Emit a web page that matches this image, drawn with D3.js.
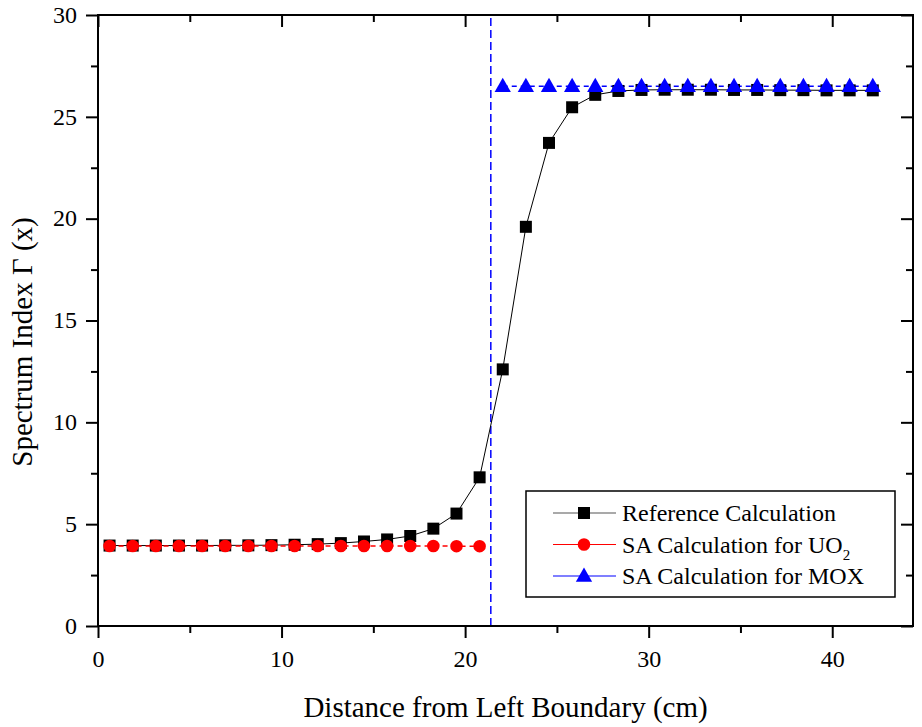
<!DOCTYPE html>
<html>
<head>
<meta charset="utf-8">
<script src="https://cdn.jsdelivr.net/npm/d3@7/dist/d3.min.js"></script>
<style>
  body { margin: 0; background: #fff; }
  svg { display: block; font-family: "Liberation Serif", "Times New Roman", serif; }
</style>
</head>
<body>
<svg id="chart" width="922" height="727"></svg>
<script>
// positions of the cell centres (cm)
const uo2X = [0.63, 1.89, 3.15, 4.41, 5.67, 6.93, 8.19, 9.45, 10.71, 11.97, 13.23, 14.49, 15.75, 17.01, 18.27, 19.53, 20.79];
const moxX = [22.05, 23.31, 24.57, 25.83, 27.09, 28.35, 29.61, 30.87, 32.13, 33.39, 34.65, 35.91, 37.17, 38.43, 39.69, 40.95, 42.21];

// spectrum index values
const refUO2 = [3.95, 3.95, 3.95, 3.95, 3.95, 3.96, 3.96, 3.97, 3.99, 4.02, 4.07, 4.15, 4.25, 4.42, 4.78, 5.52, 7.30];
const refMOX = [12.6, 19.6, 23.72, 25.47, 26.08, 26.27, 26.32, 26.33, 26.33, 26.33, 26.32, 26.32, 26.31, 26.31, 26.3, 26.3, 26.3];
const saUO2 = [3.93, 3.93, 3.93, 3.93, 3.93, 3.93, 3.93, 3.93, 3.93, 3.93, 3.93, 3.93, 3.93, 3.93, 3.93, 3.92, 3.92];
const saMOX = [26.5, 26.5, 26.5, 26.5, 26.5, 26.5, 26.5, 26.5, 26.5, 26.5, 26.5, 26.5, 26.5, 26.5, 26.5, 26.5, 26.5];

const interfaceX = 21.4;
const xTicks = [0, 10, 20, 30, 40];
const yTicks = [0, 5, 10, 15, 20, 25, 30];

const margin = { top: 15, right: 9, bottom: 101, left: 98 };
const width = 922, height = 727;
const w = width - margin.left - margin.right;
const h = height - margin.top - margin.bottom;

const svg = d3.select('#chart');
const g = svg.append('g').attr('transform', `translate(${margin.left},${margin.top})`);

const x = d3.scaleLinear().domain([0, 44.4]).range([0, w]);
const y = d3.scaleLinear().domain([0, 30]).range([h, 0]);

const refData = uo2X.map((d, i) => ({ x: d, y: refUO2[i] }))
  .concat(moxX.map((d, i) => ({ x: d, y: refMOX[i] })));
const uo2Data = uo2X.map((d, i) => ({ x: d, y: saUO2[i] }));
const moxData = moxX.map((d, i) => ({ x: d, y: saMOX[i] }));

const line = d3.line().x(d => x(d.x)).y(d => y(d.y));

// interface line
g.append('line')
  .attr('x1', x(interfaceX)).attr('x2', x(interfaceX))
  .attr('y1', y(0)).attr('y2', y(30))
  .attr('stroke', '#0000ff').attr('stroke-width', 1.5)
  .attr('stroke-dasharray', '8,4');

// lines
g.append('path').datum(refData).attr('d', line)
  .attr('fill', 'none').attr('stroke', '#000').attr('stroke-width', 1);
g.append('path').datum(uo2Data).attr('d', line)
  .attr('fill', 'none').attr('stroke', '#ff0000').attr('stroke-width', 1.5)
  .attr('stroke-dasharray', '5,4');
g.append('path').datum(moxData).attr('d', line)
  .attr('fill', 'none').attr('stroke', '#0000ff').attr('stroke-width', 1.5)
  .attr('stroke-dasharray', '5,4');

// markers
const sq = d3.symbol().type(d3.symbolSquare).size(144);
const ci = d3.symbol().type(d3.symbolCircle).size(124);
const tri = d3.symbol().type(d3.symbolTriangle).size(115);

g.selectAll('.ref').data(refData).enter().append('path')
  .attr('class', 'ref')
  .attr('transform', d => `translate(${x(d.x)},${y(d.y)})`)
  .attr('d', sq).attr('fill', '#000');
g.selectAll('.uo2').data(uo2Data).enter().append('path')
  .attr('class', 'uo2')
  .attr('transform', d => `translate(${x(d.x)},${y(d.y)})`)
  .attr('d', ci).attr('fill', '#ff0000');
g.selectAll('.mox').data(moxData).enter().append('path')
  .attr('class', 'mox')
  .attr('transform', d => `translate(${x(d.x)},${y(d.y) + 1})`)
  .attr('d', tri).attr('fill', '#0000ff');

// axes: bottom/left outward, top/right inward
const axisStyle = sel => {
  sel.select('.domain').remove();
  sel.selectAll('.tick line').attr('stroke', '#000').attr('stroke-width', 2);
  sel.selectAll('text').attr('fill', '#000').style('font-size', '24px')
    .style('font-family', '"Liberation Serif", serif');
};
const xMinor = d3.range(5, 44, 10);
const yMinor = d3.range(2.5, 30, 5);

g.append('g').attr('transform', `translate(0,${h})`)
  .call(d3.axisBottom(x).tickValues(xTicks).tickFormat(d3.format('d')).tickSize(12).tickPadding(12))
  .call(axisStyle);
g.append('g').attr('transform', `translate(0,${h})`)
  .call(d3.axisBottom(x).tickValues(xMinor).tickFormat('').tickSize(7)).call(axisStyle);

g.append('g')
  .call(d3.axisLeft(y).tickValues(yTicks).tickFormat(d3.format('d')).tickSize(12).tickPadding(9))
  .call(axisStyle)
  .selectAll('text').attr('dy', '0.3em');
g.append('g').call(d3.axisLeft(y).tickValues(yMinor).tickFormat('').tickSize(7)).call(axisStyle);

g.append('g').call(d3.axisTop(x).tickValues(xTicks).tickFormat('').tickSize(-12)).call(axisStyle);
g.append('g').call(d3.axisTop(x).tickValues(xMinor).tickFormat('').tickSize(-7)).call(axisStyle);
g.append('g').attr('transform', `translate(${w},0)`)
  .call(d3.axisRight(y).tickValues(yTicks).tickFormat('').tickSize(-12)).call(axisStyle);
g.append('g').attr('transform', `translate(${w},0)`)
  .call(d3.axisRight(y).tickValues(yMinor).tickFormat('').tickSize(-7)).call(axisStyle);

// frame
g.append('rect').attr('width', w).attr('height', h)
  .attr('fill', 'none').attr('stroke', '#000').attr('stroke-width', 2);

// axis titles
svg.append('text')
  .attr('x', margin.left + w / 2).attr('y', 717)
  .attr('text-anchor', 'middle').style('font-size', '29px')
  .text('Distance from Left Boundary (cm)');
svg.append('text')
  .attr('transform', `translate(32,342) rotate(-90)`)
  .attr('text-anchor', 'middle').style('font-size', '29px')
  .text('Spectrum Index Γ (x)');

// legend
const legend = svg.append('g').attr('transform', 'translate(526,491)');
legend.append('rect').attr('width', 369).attr('height', 106)
  .attr('fill', '#fff').attr('stroke', '#000').attr('stroke-width', 1.5);
const items = [
  { label: 'Reference Calculation', color: '#000', lc: '#555', sym: sq, dy: 0 },
  { label: 'SA Calculation for UO', sub: '2', color: '#ff0000', lc: '#ff0000', sym: ci, dy: 0 },
  { label: 'SA Calculation for MOX', color: '#0000ff', lc: '#0000ff', sym: tri, dy: 1 }
];
items.forEach((it, i) => {
  const ry = 22 + i * 31.5;
  legend.append('line').attr('x1', 27).attr('x2', 90).attr('y1', ry).attr('y2', ry)
    .attr('stroke', it.lc).attr('stroke-width', 1.2);
  legend.append('path').attr('d', it.sym)
    .attr('transform', `translate(58,${ry + it.dy})`).attr('fill', it.color);
  const t = legend.append('text').attr('x', 96).attr('y', ry + 8)
    .style('font-size', '24px').text(it.label);
  if (it.sub) t.append('tspan').attr('dy', 7).style('font-size', '15px').text(it.sub);
});
</script>
</body>
</html>
